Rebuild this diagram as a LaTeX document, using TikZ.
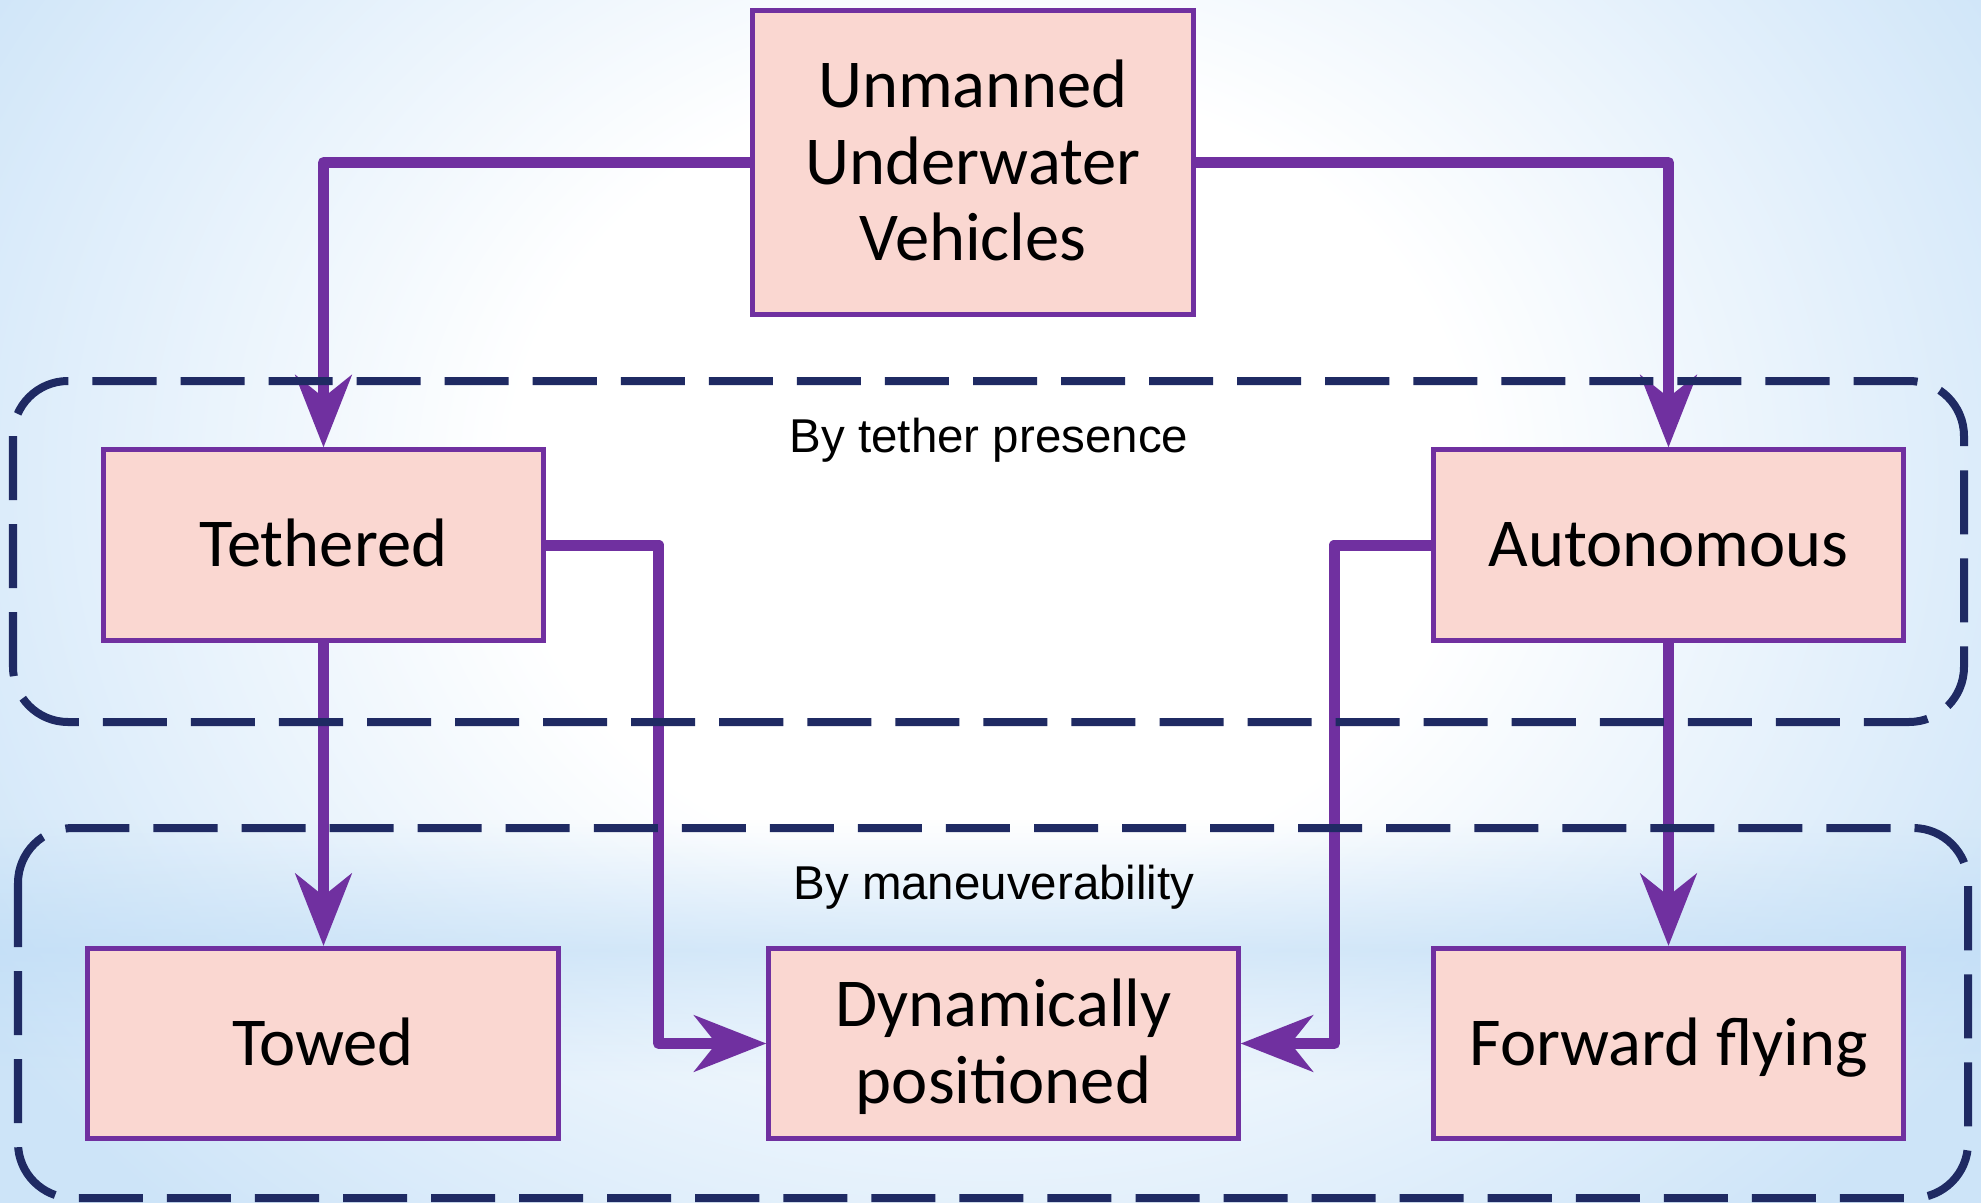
\documentclass[tikz,border=0pt]{standalone}
\usepackage{fontspec}
\setmainfont{Carlito}
\newfontfamily\labelfont{Liberation Sans}
\usetikzlibrary{arrows.meta,fadings}
\definecolor{bgblue}{HTML}{CDE4F8}
\definecolor{bandblue}{HTML}{BEDCF6}
\definecolor{boxfill}{HTML}{FAD7D1}
\definecolor{purp}{HTML}{7030A0}
\definecolor{navy}{HTML}{1F2A63}
\pgfdeclareradialshading{bgrad}{\pgfpoint{0bp}{0bp}}{color(0bp)=(white); color(10bp)=(white); color(25bp)=(bgblue); color(50bp)=(bgblue)}
\tikzfading[name=bandfade, top color=transparent!100, bottom color=transparent!100, middle color=transparent!0]
\tikzset{
  ubox/.style={draw=purp, line width=0.05cm, fill=boxfill,
    font=\fontsize{19.5}{21.8}\selectfont, inner sep=0pt, align=center,
    text height=12.3pt, text depth=0pt},
  conn/.style={draw=purp, line width=0.11cm, line join=round,
    -{Stealth[length=0.72cm,width=0.56cm,inset=0.22cm]}},
  groupbox/.style={draw=navy, line width=0.08cm, dash pattern=on 0.64cm off 0.24cm,
    rounded corners=0.55cm},
  grouplabel/.style={font=\labelfont\fontsize{13.5}{16}\selectfont, anchor=base, inner sep=0pt}
}
\begin{document}
\begin{tikzpicture}[x=0.01cm, y=-0.01cm]
\useasboundingbox (0,0) rectangle (1981,1203);
% background
\fill[bgblue] (0,0) rectangle (1981,1203);
\shade[shading=bgrad] (990,480) ellipse [x radius=12cm, y radius=10cm];
\fill[bandblue, path fading=bandfade, fill opacity=0.6] (0,820) rectangle (1981,1080);

% boxes
\node[ubox, minimum width=4.40cm, minimum height=3.03cm, text height=55.9pt] (top) at (973,162.5) {Unmanned\\Underwater\\Vehicles};
\node[ubox, minimum width=4.39cm, minimum height=1.90cm] (teth) at (323.5,545) {Tethered};
\node[ubox, minimum width=4.69cm, minimum height=1.90cm] (auto) at (1668.5,545) {Autonomous};
\node[ubox, minimum width=4.70cm, minimum height=1.90cm] (towed) at (323,1043.5) {Towed};
\node[ubox, minimum width=4.69cm, minimum height=1.90cm, text height=34.1pt] (dyn) at (1003.5,1043.5) {Dynamically\\positioned};
\node[ubox, minimum width=4.69cm, minimum height=1.90cm] (fwd) at (1668.5,1043.5) {Forward flying};

% connectors
\draw[conn] (top.west) -| (teth.north);
\draw[conn] (top.east) -| (auto.north);
\draw[conn] (teth.south) -- (teth.south |- towed.north);
\draw[conn] (auto.south) -- (auto.south |- fwd.north);
\draw[conn] (teth.east) -- ++(113,0) |- (dyn.west);
\draw[conn] (auto.west) -- ++(-97,0) |- (dyn.east);

% groups
\draw[groupbox] (13,381) rectangle (1964,722);
\draw[groupbox] (18,828) rectangle (1968,1198);
\node[grouplabel] (lab1) at (989,452) {By tether presence};
\node[grouplabel] (lab2) at (994,899) {By maneuverability};
\end{tikzpicture}
\end{document}
